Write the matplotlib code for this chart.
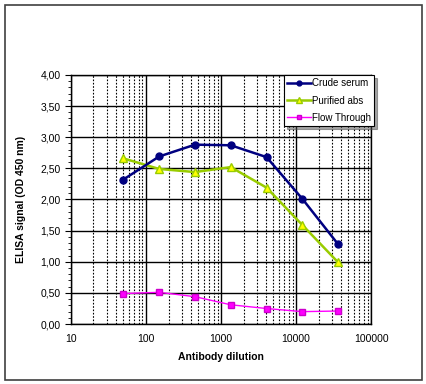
import numpy as np
import matplotlib
matplotlib.use("Agg")
import matplotlib.pyplot as plt
from matplotlib.ticker import LogLocator, MultipleLocator, FuncFormatter, NullFormatter
from matplotlib.patches import Rectangle

plt.rcParams['font.family'] = ['Liberation Sans', 'DejaVu Sans']

# dilutions (3-fold series)
dilution = [50, 150, 450, 1350, 4050, 12150, 36450]
crude_serum = [2.32, 2.69, 2.88, 2.87, 2.68, 2.01, 1.28]
purified_abs = [2.66, 2.49, 2.44, 2.52, 2.19, 1.59, 0.99]
flow_through = [0.49, 0.51, 0.44, 0.31, 0.25, 0.20, 0.21]

fig = plt.figure(figsize=(4.27, 3.84), dpi=100)
ax = fig.add_axes([0.166, 0.156, 0.703, 0.649])

# outer frame like the excel chart area
fig.patches.append(Rectangle((0.012, 0.010), 0.976, 0.978, transform=fig.transFigure,
                             fill=False, edgecolor='#404040', linewidth=1.2))

ax.plot(dilution, crude_serum, color='#000080', lw=1.8, marker='o', ms=5,
        mfc='#000080', mec='#000080', label='Crude serum', zorder=5)
ax.plot(dilution, purified_abs, color='#99CC00', lw=1.8, marker='^', ms=6,
        mfc='#FFFF00', mec='#99CC00', label='Purified abs', zorder=4)
ax.plot(dilution, flow_through, color='#FF00FF', lw=1.0, marker='s', ms=5,
        mfc='#FF00FF', mec='#CC00CC', label='Flow Through', zorder=4)

ax.set_xscale('log')
ax.set_xlim(10, 100000)
ax.set_ylim(0, 4)
ax.xaxis.set_major_locator(LogLocator(base=10))
ax.xaxis.set_minor_locator(LogLocator(base=10, subs=np.arange(2, 10)))
ax.xaxis.set_minor_formatter(NullFormatter())
ax.xaxis.set_major_formatter(FuncFormatter(lambda v, p: '%d' % v))
ax.yaxis.set_major_locator(MultipleLocator(0.5))
ax.yaxis.set_minor_locator(MultipleLocator(0.1))
ax.yaxis.set_major_formatter(FuncFormatter(lambda v, p: ('%.2f' % v).replace('.', ',')))

ax.grid(which='major', axis='both', color='black', lw=1.0, ls='-')
ax.grid(which='minor', axis='x', color='black', lw=0.8, ls=(0, (1.5, 1.5)))
ax.set_axisbelow(True)

ax.tick_params(axis='x', which='both', length=0, labelsize=7.5, pad=7)
ax.tick_params(axis='y', which='major', length=4, direction='out', labelsize=7.5)
ax.tick_params(axis='y', which='minor', length=2, direction='out')
for s in ax.spines.values():
    s.set_color('black')
    s.set_linewidth(1.0)

ax.set_xlabel('Antibody dilution', fontsize=7.5, fontweight='bold', labelpad=6)
ax.set_ylabel('ELISA signal (OD 450 nm)', fontsize=7.5, fontweight='bold', labelpad=10)

leg = ax.legend(loc='upper right', bbox_to_anchor=(1.01, 1.0), fontsize=7,
                frameon=True, fancybox=False, shadow=True, borderpad=0.35,
                handlelength=2.4, handletextpad=0.1, labelspacing=0.75,
                borderaxespad=0, markerscale=0.7)
leg.get_frame().set_edgecolor('black')
leg.get_frame().set_linewidth(0.8)

fig.savefig('out.png', dpi=100)
